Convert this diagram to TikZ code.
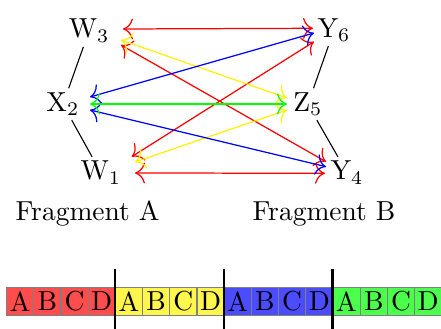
\documentclass[tikz,border=0pt]{standalone}
\usetikzlibrary{calc,arrows.meta}
\begin{document}
\begin{tikzpicture}[x=0.36364pt,y=-0.36364pt,
  lbl/.style={inner sep=0pt,anchor=base west},
  lblr/.style={inner sep=0pt,anchor=base east},
  link/.style={{Computer Modern Rightarrow[scale=1.4]}-{Computer Modern Rightarrow[scale=1.4]},line width=0.45pt},
  tie/.style={line width=0.4pt,shorten <=1.6pt,shorten >=1.6pt},
  cell/.style={draw=gray,line width=0.4pt,minimum width=9.89pt,minimum height=10.18pt,inner sep=0pt,anchor=north west},
  sep/.style={line width=0.8pt}]
\useasboundingbox (0,0) rectangle (441,329);
% labels
\node[lblr] (W3) at (110,38) {$\mathrm{W}_3$};
\node[lblr] (X2) at (80,111.7) {$\mathrm{X}_2$};
\node[lblr] (W1) at (121.7,180) {$\mathrm{W}_1$};
\node[lbl] (Y6) at (317,37.3) {$\mathrm{Y}_6$};
\node[lbl] (Z5) at (292.7,111.7) {$\mathrm{Z}_5$};
\node[lbl] (Y4) at (330,180) {$\mathrm{Y}_4$};
% black ties
\draw[tie] (W3) -- (X2);
\draw[tie] (X2) -- (W1);
\draw[tie] (Y6) -- (Z5);
\draw[tie] (Z5) -- (Y4);
% coloured links
\draw[link,red] ($(W3.base east)+(13,-9)$) -- ($(Y6.base west)+(-4,-9)$);
\draw[link,red] ($(W1.base east)+(13.3,-7)$) -- ($(Y4.base west)+(-5,-6.7)$);
\draw[link,red] ($(W3.base east)+(11,7)$) -- ($(Y4.base west)+(-4,-18.3)$);
\draw[link,red] ($(W1.base east)+(10,-23.3)$) -- ($(Y6.base west)+(-3,4.4)$);
\draw[link,yellow] ($(W3.base east)+(11,2)$) -- ($(Z5.base west)+(-5.7,-13.7)$);
\draw[link,yellow] ($(W1.base east)+(13.3,-18)$) -- ($(Z5.base west)+(-5.7,-1.7)$);
\draw[link,blue] ($(X2.base east)+(10,-14.7)$) -- ($(Y6.base west)+(-3,-4.3)$);
\draw[link,blue] ($(X2.base east)+(10,-1.7)$) -- ($(Y4.base west)+(-4,-13.3)$);
\draw[link,green] ($(X2.base east)+(10,-7.7)$) -- ($(Z5.base west)+(-5.7,-7.7)$);
% fragment titles
\node[lbl] (fa) at (15,221) {Fragment A};
\node[lbl] (fb) at (252,221) {Fragment B};
% cells
\foreach \c [count=\i from 0] in {red,yellow,blue,green}{
  \foreach \l [count=\j from 0] in {A,B,C,D}{
    \node[cell,fill=\c!70] (c\i\j) at ({6+(4*\i+\j)*27.2},287) {\l};
  }
}
% separators
\draw[sep] (114.8,269) -- (114.8,329);
\draw[sep] (223.6,269) -- (223.6,329);
\draw[sep] (332.4,269) -- (332.4,329);
\end{tikzpicture}
\end{document}
